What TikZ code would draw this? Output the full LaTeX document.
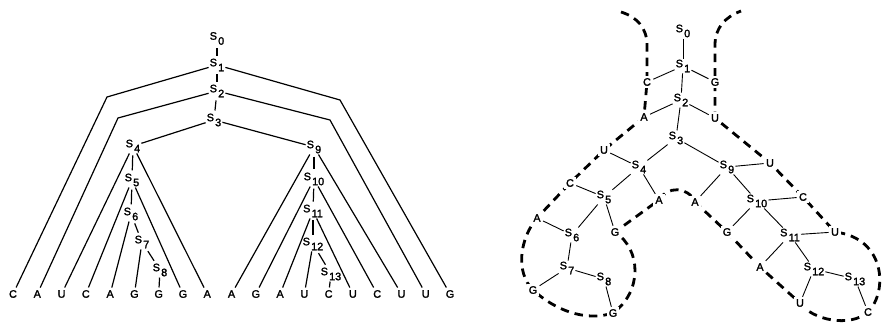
\documentclass[tikz,border=0pt]{standalone}
\usepackage{fontspec}
\setmainfont{Liberation Sans}
\newfontfamily\labfont[FakeBold=2]{Liberation Sans}
\usetikzlibrary{backgrounds}
\newcommand{\Sn}[1]{S\kern1.2pt\raisebox{-5pt}{#1}}
\begin{document}
\begin{tikzpicture}[x=1pt,y=-1pt,
  slab/.style={font=\labfont\fontsize{10.8}{12}\selectfont, inner sep=1pt},
  letter/.style={font=\labfont\fontsize{10.8}{12}\selectfont, inner sep=2.5pt},
  rletter/.style={font=\labfont\fontsize{10.8}{12}\selectfont, inner sep=2.2pt, fill=white},
  treeline/.style={line width=1.2pt},
  tick/.style={line width=1.2pt, shorten <=2pt, shorten >=2pt},
  bondline/.style={line width=0.9pt},
  bbone/.style={line width=2.8pt, dash pattern=on 8.5pt off 6pt}]
\useasboundingbox (0,0) rectangle (884,324);
% ---------------- left tree ----------------
\node[slab] (a0) at (217,38.5) {\Sn{0}};
\node[slab] (a1) at (217,65) {\Sn{1}};
\node[slab] (a2) at (217,91) {\Sn{2}};
\node[slab] (a3) at (214,120) {\Sn{3}};
\node[slab] (a4) at (133,146) {\Sn{4}};
\node[slab] (a5) at (132,180) {\Sn{5}};
\node[slab] (a6) at (131,214) {\Sn{6}};
\node[slab] (a7) at (142,242) {\Sn{7}};
\node[slab] (a8) at (160,270) {\Sn{8}};
\node[slab] (a9) at (314,147) {\Sn{9}};
\node[slab] (a10) at (314,179) {\Sn{10}};
\node[slab] (a11) at (313,211) {\Sn{11}};
\node[slab] (a12) at (313,244) {\Sn{12}};
\node[slab] (a13) at (331,274) {\Sn{13}};
\foreach \ch [count=\i from 0] in {C,A,U,C,A,G,G,G,A,A,G,A,U,C,U,C,U,U,G}
  \node[letter] (L\i) at ({13+24.28*\i},294) {\ch};
\coordinate (k1) at (107,97);
\coordinate (k2) at (340,100);
\coordinate (k3) at (118,118);
\coordinate (k4) at (330,120);
\draw[tick] (a0) -- (a1);
\draw[tick] (a1) -- (a2);
\draw[tick] (a2) -- (a3);
\draw[treeline] (a1) -- (k1) -- (L0);
\draw[treeline] (a1) -- (k2) -- (L18);
\draw[treeline] (a2) -- (k3) -- (L1);
\draw[treeline] (a2) -- (k4) -- (L17);
\draw[treeline] (a3) -- (a4);
\draw[treeline] (a3) -- (a9);
\draw[treeline] (a4) -- (L2);
\draw[treeline] (a4) -- (L8);
\draw[tick] (a4) -- (a5);
\draw[treeline] (a5) -- (L3);
\draw[treeline] (a5) -- (L7);
\draw[tick] (a5) -- (a6);
\draw[treeline] (a6) -- (L4);
\draw[tick] (a6) -- (a7);
\draw[treeline] (a7) -- (L5);
\draw[tick] (a7) -- (a8);
\draw[treeline] (a8) -- (L6);
\draw[treeline] (a9) -- (L9);
\draw[treeline] (a9) -- (L16);
\draw[tick] (a9) -- (a10);
\draw[treeline] (a10) -- (L10);
\draw[treeline] (a10) -- (L15);
\draw[tick] (a10) -- (a11);
\draw[treeline] (a11) -- (L11);
\draw[treeline] (a11) -- (L14);
\draw[tick] (a11) -- (a12);
\draw[treeline] (a12) -- (L12);
\draw[tick] (a12) -- (a13);
\draw[treeline] (a13) -- (L13);
% ---------------- right structure ----------------
\node[slab] (r0) at (683,31) {\Sn{0}};
\node[slab] (r1) at (683,66) {\Sn{1}};
\node[slab] (r2) at (681,100) {\Sn{2}};
\node[slab] (r3) at (676,138) {\Sn{3}};
\node[slab] (r4) at (639,167) {\Sn{4}};
\node[slab] (r5) at (604,197) {\Sn{5}};
\node[slab] (r6) at (572,235) {\Sn{6}};
\node[slab] (r7) at (567,268) {\Sn{7}};
\node[slab] (r8) at (604,279) {\Sn{8}};
\node[slab] (r9) at (727,167) {\Sn{9}};
\node[slab] (r10) at (757,201) {\Sn{10}};
\node[slab] (r11) at (790,235) {\Sn{11}};
\node[slab] (r12) at (814,269) {\Sn{12}};
\node[slab] (r13) at (855,279) {\Sn{13}};
\node[rletter] (c1) at (647,82) {C};
\node[rletter] (g1) at (715,82) {G};
\node[rletter] (a2l) at (644,117) {A};
\node[rletter] (u2) at (715,118) {U};
\node[rletter] (u4) at (604,150) {U};
\node[rletter] (a4l) at (659,200) {A};
\node[rletter] (c5) at (570,183) {C};
\node[rletter] (g5) at (615,232) {G};
\node[rletter] (a6l) at (537,218) {A};
\node[rletter] (g7) at (533,290) {G};
\node[rletter] (g8) at (613,313) {G};
\node[rletter] (u9) at (770,163) {U};
\node[rletter] (a9l) at (695,202) {A};
\node[rletter] (c10) at (803,197) {C};
\node[rletter] (g10) at (727,232) {G};
\node[rletter] (u11) at (835,232) {U};
\node[rletter] (a11l) at (760,267) {A};
\node[rletter] (u12) at (800,303) {U};
\node[rletter] (c13) at (868,312) {C};
\coordinate (b0) at (621,12);
\coordinate (b1) at (647,45);
\coordinate (b2) at (715,45);
\coordinate (b3) at (741,11);
\begin{pgfonlayer}{background}
\draw[bbone] (b0) .. controls (637,17) and (647,28) .. (b1) -- (c1.center) -- (a2l.center)
  -- (u4.center) -- (c5.center) -- (a6l.center)
  .. controls (520,238) and (515,272) .. (g7.center)
  .. controls (555,310) and (585,322) .. (g8.center)
  .. controls (642,292) and (642,250) .. (g5.center) -- (a4l.center)
  .. controls (667,186) and (688,186) .. (a9l.center) -- (g10.center) -- (a11l.center) -- (u12.center)
  .. controls (812,320) and (850,328) .. (c13.center)
  .. controls (888,292) and (886,238) .. (u11.center) -- (c10.center) -- (u9.center)
  -- (u2.center) -- (g1.center) -- (b2) .. controls (715,28) and (725,17) .. (b3);
\end{pgfonlayer}
\draw[bondline] (r0) -- (r1);
\draw[bondline] (r1) -- (c1);
\draw[bondline] (r1) -- (g1);
\draw[bondline] (r1) -- (r2);
\draw[bondline] (r2) -- (a2l);
\draw[bondline] (r2) -- (u2);
\draw[bondline] (r2) -- (r3);
\draw[bondline] (r3) -- (r4);
\draw[bondline] (r3) -- (r9);
\draw[bondline] (r4) -- (u4);
\draw[bondline] (r4) -- (a4l);
\draw[bondline] (r4) -- (r5);
\draw[bondline] (r5) -- (c5);
\draw[bondline] (r5) -- (g5);
\draw[bondline] (r5) -- (r6);
\draw[bondline] (r6) -- (a6l);
\draw[bondline] (r6) -- (r7);
\draw[bondline] (r7) -- (g7);
\draw[bondline] (r7) -- (r8);
\draw[bondline] (r8) -- (g8);
\draw[bondline] (r9) -- (a9l);
\draw[bondline] (r9) -- (u9);
\draw[bondline] (r9) -- (r10);
\draw[bondline] (r10) -- (g10);
\draw[bondline] (r10) -- (c10);
\draw[bondline] (r10) -- (r11);
\draw[bondline] (r11) -- (a11l);
\draw[bondline] (r11) -- (u11);
\draw[bondline] (r11) -- (r12);
\draw[bondline] (r12) -- (u12);
\draw[bondline] (r12) -- (r13);
\draw[bondline] (r13) -- (c13);
\end{tikzpicture}
\end{document}
